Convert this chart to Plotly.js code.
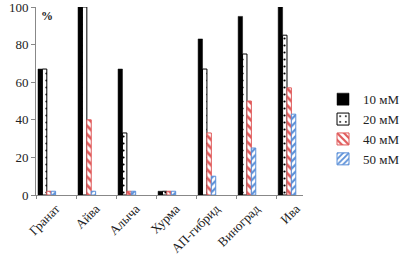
<!DOCTYPE html>
<html><head><meta charset="utf-8">
<script src="https://cdn.plot.ly/plotly-3.0.1.min.js"></script>
<style>html,body{margin:0;padding:0;background:#fff}#c{width:412px;height:257px}</style>
</head><body><div id="c"></div>
<script>
const categories = ["Гранат","Айва","Алыча","Хурма","АП-гибрид","Виноград","Ива"];
const seriesNames = ["10 мМ","20 мМ","40 мМ","50 мМ"];
const v10 = [67,100,67,2,83,95,100];
const v20 = [67,100,33,2,67,75,85];
const v40 = [2,40,2,2,33,50,57];
const v50 = [2,2,2,2,10,25,43];
const yTicks = [0,20,40,60,80,100];

const W = 0.11;
const styles = [
  {color:'#000000', line:{color:'#000000',width:0.5}},
  {color:'#ffffff', line:{color:'#000000',width:1}, pattern:{shape:'.', fgcolor:'#000000', bgcolor:'#ffffff', size:7, solidity:0.08}},
  {color:'#e05a5a', line:{color:'#e05a5a',width:1}, pattern:{shape:'\\', fgcolor:'#e05a5a', bgcolor:'#ffffff', size:6, solidity:0.45}},
  {color:'#5a8fd8', line:{color:'#5a8fd8',width:1}, pattern:{shape:'/', fgcolor:'#5a8fd8', bgcolor:'#ffffff', size:5, solidity:0.45}}
];
const vals = [v10,v20,v40,v50];
const traces = vals.map((v,i)=>({
  type:'bar', x:categories, y:v, name:seriesNames[i],
  width:W, offset:-0.45 + i*W,
  marker:Object.assign({}, styles[i])
}));

const layout = {
  width:412, height:257,
  margin:{l:36, r:72, t:7, b:62},
  barmode:'overlay',
  paper_bgcolor:'#fff', plot_bgcolor:'#fff',
  font:{family:'"Liberation Serif", "Times New Roman", serif', size:12, color:'#222'},
  xaxis:{type:'category', range:[-0.5,6.17], tickson:'boundaries', ticks:'outside', ticklen:3,
    tickcolor:'#888', showline:true, linecolor:'#888', linewidth:1, tickangle:-45,
    tickfont:{size:13, color:'#222'}, showgrid:false, zeroline:false},
  yaxis:{range:[0,100], tickvals:yTicks, ticks:'outside', ticklen:4, tickcolor:'#888',
    showline:true, linecolor:'#888', linewidth:1, showgrid:false, zeroline:false,
    ticklabeloverflow:'allow', tickfont:{size:13, color:'#222'}},
  legend:{x:1.075, xanchor:'left', y:0.35, yanchor:'middle', bgcolor:'rgba(0,0,0,0)',
    font:{size:13, color:'#222'}, tracegroupgap:0, itemwidth:30},
  annotations:[{text:'<b>%</b>', xref:'paper', yref:'paper', x:0.01, y:1.0, xanchor:'left', yanchor:'top',
    showarrow:false, font:{size:12, color:'#222'}}]
};
Plotly.newPlot('c', traces, layout, {staticPlot:true, displayModeBar:false});
</script></body></html>
